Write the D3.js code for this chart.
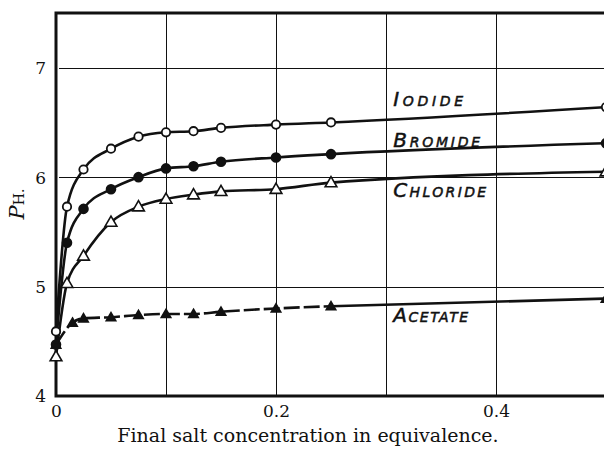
<!DOCTYPE html>
<html>
<head>
<meta charset="utf-8">
<script src="https://cdn.jsdelivr.net/npm/d3@7"></script>
<style>
  body { margin: 0; background: #fff; }
  svg { display: block; }
  .tick text { font-family: 'DejaVu Serif', serif; font-size: 17px; fill: #111; }
</style>
</head>
<body>
<div id="app"></div>
<script>
// datos
const concentration = [0, 0.01, 0.025, 0.05, 0.075, 0.1, 0.125, 0.15, 0.2, 0.25, 0.5]
const acetateConc = [0, 0.015, 0.025, 0.05, 0.075, 0.1, 0.125, 0.15, 0.2, 0.25, 0.5]
const iodide = [4.59, 5.73, 6.07, 6.26, 6.37, 6.41, 6.42, 6.45, 6.48, 6.50, 6.64]
const bromide = [4.47, 5.40, 5.71, 5.89, 6.00, 6.08, 6.10, 6.14, 6.18, 6.21, 6.31]
const chloride = [4.36, 5.03, 5.28, 5.59, 5.73, 5.80, 5.84, 5.87, 5.89, 5.95, 6.05]
const acetate = [4.47, 4.67, 4.71, 4.72, 4.74, 4.75, 4.75, 4.77, 4.80, 4.82, 4.89]

const xTicks = [0, 0.2, 0.4]
const yTicks = [4, 5, 6, 7]
const xGrid = [0.1, 0.2, 0.3, 0.4, 0.5]
const yGrid = [5, 6, 7]

// etiquetas de las curvas (coordenadas en unidades de datos)
const labels = [
  { text: 'Iodide', x: 0.3065, y: 6.65, width: 70 },
  { text: 'Bromide', x: 0.3065, y: 6.28, width: 87 },
  { text: 'Chloride', x: 0.3065, y: 5.82, width: 93 },
  { text: 'Acetate', x: 0.3065, y: 4.68, width: 75 }
]

const w = 604
const h = 452
const m = { left: 56, top: 13, bottom: 396, right: 606 }

const xScale = d3.scaleLinear().domain([0, 0.5]).range([m.left, m.right])
const yScale = d3.scaleLinear().domain([4, 7.5]).range([m.bottom, m.top])
const crisp = v => Math.round(v) + 0.5

const series = [
  { name: 'iodide', xs: concentration, ys: iodide, marker: 'circle', fill: '#fff', r: 4.2 },
  { name: 'bromide', xs: concentration, ys: bromide, marker: 'circle', fill: '#111', r: 4.4 },
  { name: 'chloride', xs: concentration, ys: chloride, marker: 'triangle', fill: '#fff', r: 5.2 },
  { name: 'acetate', xs: acetateConc, ys: acetate, marker: 'triangle', fill: '#111', r: 4.2 }
]

const svg = d3.select('#app')
  .append('svg')
  .attr('width', w)
  .attr('height', h)

// rejilla
svg.append('g')
  .selectAll('line')
  .data(xGrid)
  .enter()
  .append('line')
  .attr('x1', d => crisp(xScale(d)))
  .attr('x2', d => crisp(xScale(d)))
  .attr('y1', m.top)
  .attr('y2', m.bottom)
  .attr('stroke', '#111')
  .attr('stroke-width', 1)

svg.append('g')
  .selectAll('line')
  .data(yGrid)
  .enter()
  .append('line')
  .attr('x1', m.left + 3)
  .attr('x2', w)
  .attr('y1', d => crisp(yScale(d)))
  .attr('y2', d => crisp(yScale(d)))
  .attr('stroke', '#111')
  .attr('stroke-width', 1)

// ejes
const xAxis = d3.axisBottom(xScale)
  .tickValues(xTicks)
  .tickSize(0)
  .tickPadding(9)
  .tickFormat(d => d === 0 ? '0' : d3.format('.1f')(d))

const yAxis = d3.axisLeft(yScale)
  .tickValues(yTicks)
  .tickSize(0)
  .tickPadding(10)
  .tickFormat(d3.format('d'))

svg.append('g')
  .attr('transform', `translate(0, ${m.bottom})`)
  .call(xAxis)
  .call(g => g.select('.domain').remove())

svg.append('g')
  .attr('transform', `translate(${m.left}, 0)`)
  .call(yAxis)
  .call(g => g.select('.domain').remove())
  .call(g => g.selectAll('.tick text').attr('dy', '0.35em'))

// marco grueso
svg.append('path')
  .attr('d', `M${w},${m.top}H${m.left}V${m.bottom}H${w}`)
  .attr('fill', 'none')
  .attr('stroke', '#111')
  .attr('stroke-width', 3)

// curvas
const line = d3.line()
  .x(d => xScale(d[0]))
  .y(d => yScale(d[1]))
  .curve(d3.curveMonotoneX)

series.forEach(s => {
  const pts = s.xs.map((x, i) => [x, s.ys[i]])
  if (s.name === 'acetate') {
    // tramo discontinuo hasta 0.25, luego continuo
    svg.append('path')
      .datum(pts.slice(0, 10))
      .attr('d', line)
      .attr('fill', 'none')
      .attr('stroke', '#111')
      .attr('stroke-width', 2.6)
      .attr('stroke-dasharray', '16,4')
    svg.append('path')
      .datum(pts.slice(9))
      .attr('d', line)
      .attr('fill', 'none')
      .attr('stroke', '#111')
      .attr('stroke-width', 2.6)
  } else {
    svg.append('path')
      .datum(pts)
      .attr('d', line)
      .attr('fill', 'none')
      .attr('stroke', '#111')
      .attr('stroke-width', 2.6)
  }
})

// marcadores
const tri = d3.symbol().type(d3.symbolTriangle)

series.forEach(s => {
  const pts = s.xs.map((x, i) => [x, s.ys[i]])
  const g = svg.append('g')
  if (s.marker === 'circle') {
    g.selectAll('circle')
      .data(pts)
      .enter()
      .append('circle')
      .attr('cx', d => xScale(d[0]))
      .attr('cy', d => yScale(d[1]))
      .attr('r', s.r)
      .attr('fill', s.fill)
      .attr('stroke', '#111')
      .attr('stroke-width', 1.8)
  } else {
    g.selectAll('path')
      .data(pts)
      .enter()
      .append('path')
      .attr('d', tri.size(s.r * s.r * 2.2)())
      .attr('transform', d => `translate(${xScale(d[0])}, ${yScale(d[1]) + 0.8})`)
      .attr('fill', s.fill)
      .attr('stroke', '#111')
      .attr('stroke-width', 1.6)
  }
})

// nombres de las curvas
svg.append('g')
  .selectAll('text')
  .data(labels)
  .enter()
  .append('text')
  .attr('x', d => xScale(d.x))
  .attr('y', d => yScale(d.y))
  .attr('font-family', "'DejaVu Sans', sans-serif")
  .attr('font-style', 'italic')
  .attr('font-size', 20)
  .attr('font-variant', 'small-caps')
  .attr('textLength', d => d.width)
  .attr('lengthAdjust', 'spacing')
  .attr('fill', '#111')
  .attr('stroke', '#111')
  .attr('stroke-width', 0.5)
  .text(d => d.text)

// titulo eje x
svg.append('text')
  .attr('x', 308)
  .attr('y', 442)
  .attr('text-anchor', 'middle')
  .attr('font-family', "'DejaVu Serif', serif")
  .attr('font-size', 19)
  .attr('fill', '#111')
  .text('Final salt concentration in equivalence.')

// titulo eje y
const yTitle = svg.append('text')
  .attr('transform', 'translate(24, 204) rotate(-90)')
  .attr('text-anchor', 'middle')
  .attr('font-family', "'DejaVu Serif', serif")
  .attr('fill', '#111')

yTitle.append('tspan')
  .attr('font-style', 'italic')
  .attr('font-size', 21)
  .text('P')

yTitle.append('tspan')
  .attr('font-size', 14)
  .text('H.')
</script>
</body>
</html>
